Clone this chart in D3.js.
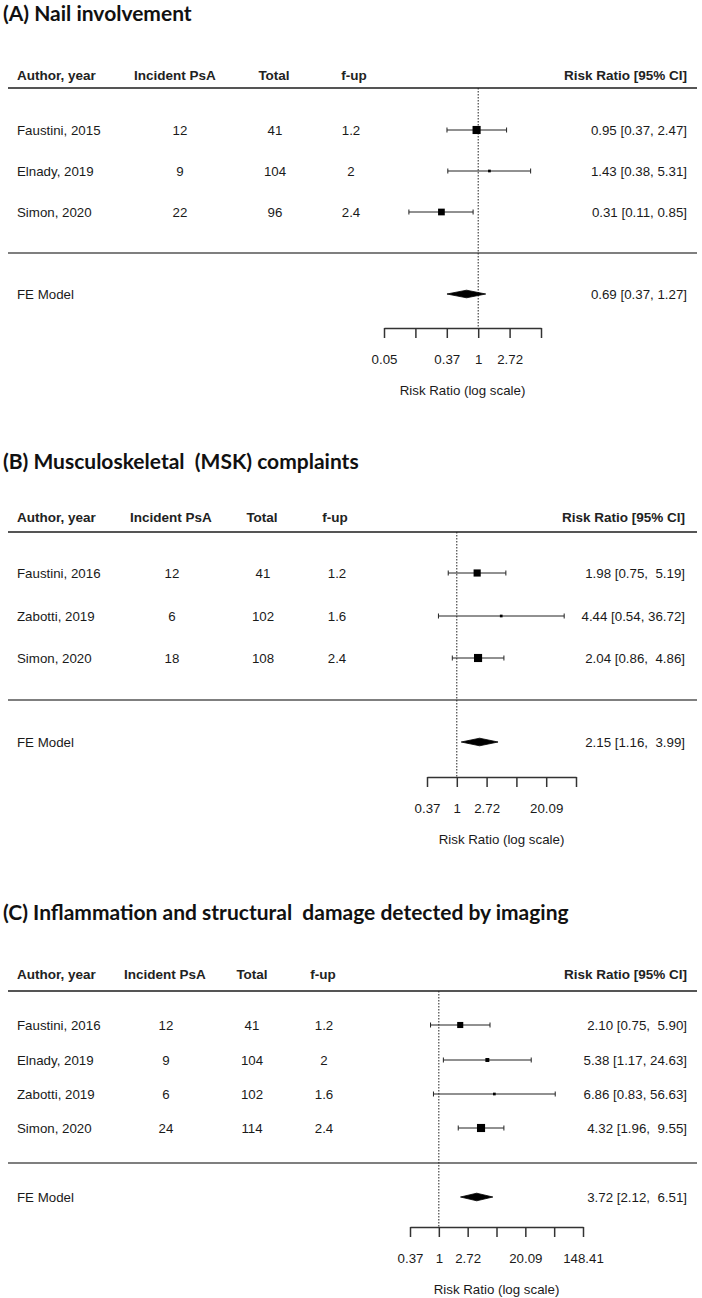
<!DOCTYPE html>
<html>
<head>
<meta charset="utf-8">
<script src="https://cdn.jsdelivr.net/npm/d3@7"></script>
<style>
  html, body { margin: 0; padding: 0; background: #fff; }
  svg { display: block; }
  text { white-space: pre; }
</style>
</head>
<body>
<svg id="chart" width="702" height="1298"></svg>
<script>
// ---------- DATA ----------
// Panel A: Nail involvement
const titleA = "(A) Nail involvement";
const authorsA = ["Faustini, 2015", "Elnady, 2019", "Simon, 2020"];
const incidentA = [12, 9, 22];
const totalA = [41, 104, 96];
const fupA = ["1.2", "2", "2.4"];
const rrA = [0.95, 1.43, 0.31];
const lowerA = [0.37, 0.38, 0.11];
const upperA = [2.47, 5.31, 0.85];
const feA = [0.69, 0.37, 1.27];
const ticksA = [-3, -2, -1, 0, 1, 2];
const tickLabelsA = ["0.05", "", "0.37", "1", "2.72", ""];

// Panel B: Musculoskeletal (MSK) complaints
const titleB = "(B) Musculoskeletal  (MSK) complaints";
const authorsB = ["Faustini, 2016", "Zabotti, 2019", "Simon, 2020"];
const incidentB = [12, 6, 18];
const totalB = [41, 102, 108];
const fupB = ["1.2", "1.6", "2.4"];
const rrB = [1.98, 4.44, 2.04];
const lowerB = [0.75, 0.54, 0.86];
const upperB = [5.19, 36.72, 4.86];
const feB = [2.15, 1.16, 3.99];
const ticksB = [-1, 0, 1, 2, 3, 4];
const tickLabelsB = ["0.37", "1", "2.72", "", "20.09", ""];

// Panel C: Inflammation and structural damage detected by imaging
const titleC = "(C) Inflammation and structural  damage detected by imaging";
const authorsC = ["Faustini, 2016", "Elnady, 2019", "Zabotti, 2019", "Simon, 2020"];
const incidentC = [12, 9, 6, 24];
const totalC = [41, 104, 102, 114];
const fupC = ["1.2", "2", "1.6", "2.4"];
const rrC = [2.10, 5.38, 6.86, 4.32];
const lowerC = [0.75, 1.17, 0.83, 1.96];
const upperC = [5.90, 24.63, 56.63, 9.55];
const feC = [3.72, 2.12, 6.51];
const ticksC = [-1, 0, 1, 2, 3, 4, 5];
const tickLabelsC = ["0.37", "1", "2.72", "", "20.09", "", "148.41"];

const headers = ["Author, year", "Incident PsA", "Total", "f-up", "Risk Ratio [95% CI]"];
const feLabel = "FE Model";
const xAxisTitle = "Risk Ratio (log scale)";

// ---------- LAYOUT (positions/styles only) ----------
const layouts = [
  { titleY: 21, headY: 80, lineY: 88, rowY: [130, 171, 212], sepY: 253, feY: 294, axisY: 328,
    xr: [384, 541], hdrX: [175, 274, 354], colX: [180, 275, 351], rightX: 687 },
  { titleY: 469, headY: 522, lineY: 532, rowY: [573, 616, 658], sepY: 700, feY: 742, axisY: 777,
    xr: [427, 576], hdrX: [171, 262, 335], colX: [172, 263, 337], rightX: 685 },
  { titleY: 920, headY: 979, lineY: 991, rowY: [1025, 1060, 1094, 1128], sepY: 1163, feY: 1197, axisY: 1227,
    xr: [410, 583], hdrX: [165, 252, 323], colX: [166, 252, 324], rightX: 687 }
];

const panels = [
  { title: titleA, authors: authorsA, inc: incidentA, tot: totalA, fup: fupA, rr: rrA, lo: lowerA, hi: upperA, fe: feA, ticks: ticksA, tlabels: tickLabelsA },
  { title: titleB, authors: authorsB, inc: incidentB, tot: totalB, fup: fupB, rr: rrB, lo: lowerB, hi: upperB, fe: feB, ticks: ticksB, tlabels: tickLabelsB },
  { title: titleC, authors: authorsC, inc: incidentC, tot: totalC, fup: fupC, rr: rrC, lo: lowerC, hi: upperC, fe: feC, ticks: ticksC, tlabels: tickLabelsC }
];

const svg = d3.select("#chart");
const BODY_FONT = "'Liberation Sans', Arial, sans-serif";
const TITLE_FONT = "Lato, 'Open Sans', sans-serif";
const INK = "#1a1a1a";
const LINE = "#555";

function fmt(v) { return v.toFixed(2); }

function drawPanel(p, L) {
  const g = svg.append("g");
  const n = p.authors.length;

  // title
  g.append("text").attr("x", 3).attr("y", L.titleY)
    .attr("font-family", TITLE_FONT).attr("font-weight", 700).attr("font-size", 21)
    .attr("fill", "#111").text(p.title);

  // headers
  const hdr = g.append("g").attr("font-family", BODY_FONT).attr("font-weight", 700)
    .attr("font-size", 13.5).attr("fill", "#222");
  hdr.append("text").attr("x", 17).attr("y", L.headY).text(headers[0]);
  [1, 2, 3].forEach(i => hdr.append("text").attr("x", L.hdrX[i - 1]).attr("y", L.headY)
    .attr("text-anchor", "middle").text(headers[i]));
  hdr.append("text").attr("x", L.rightX).attr("y", L.headY).attr("text-anchor", "end").text(headers[4]);

  // lines
  g.append("line").attr("x1", 8).attr("x2", 697).attr("y1", L.lineY).attr("y2", L.lineY)
    .attr("stroke", LINE).attr("stroke-width", 2);
  g.append("line").attr("x1", 8).attr("x2", 697).attr("y1", L.sepY).attr("y2", L.sepY)
    .attr("stroke", LINE).attr("stroke-width", 1.5);

  // scale
  const x = d3.scaleLog().base(Math.E)
    .domain([Math.exp(d3.min(p.ticks)), Math.exp(d3.max(p.ticks))])
    .range(L.xr);

  // reference line at RR = 1
  g.append("line").attr("x1", x(1)).attr("x2", x(1)).attr("y1", L.lineY).attr("y2", L.axisY)
    .attr("stroke", "#222").attr("stroke-width", 1).attr("stroke-dasharray", "1.5,1.5");

  // table text
  const body = g.append("g").attr("font-family", BODY_FONT).attr("font-size", 13.3).attr("fill", INK);
  const maxHi = d3.max(p.hi.concat([p.fe[2]]).map(v => fmt(v).length));
  const maxLo = d3.max(p.lo.concat([p.fe[1]]).map(v => fmt(v).length));
  const ciText = (e, l, h) => fmt(e) + " [" + fmt(l).padStart(maxLo) + ", " + fmt(h).padStart(maxHi) + "]";

  for (let i = 0; i < n; i++) {
    const y = L.rowY[i];
    body.append("text").attr("x", 17).attr("y", y).attr("dy", "0.35em").text(p.authors[i]);
    body.append("text").attr("x", L.colX[0]).attr("y", y).attr("dy", "0.35em").attr("text-anchor", "middle").text(p.inc[i]);
    body.append("text").attr("x", L.colX[1]).attr("y", y).attr("dy", "0.35em").attr("text-anchor", "middle").text(p.tot[i]);
    body.append("text").attr("x", L.colX[2]).attr("y", y).attr("dy", "0.35em").attr("text-anchor", "middle").text(p.fup[i]);
    body.append("text").attr("x", L.rightX).attr("y", y).attr("dy", "0.35em").attr("text-anchor", "end")
      .text(ciText(p.rr[i], p.lo[i], p.hi[i]));
  }
  body.append("text").attr("x", 17).attr("y", L.feY).attr("dy", "0.35em").text(feLabel);
  body.append("text").attr("x", L.rightX).attr("y", L.feY).attr("dy", "0.35em").attr("text-anchor", "end")
    .text(ciText(p.fe[0], p.fe[1], p.fe[2]));

  // weights (metafor style: 1/se, rescaled to 0.5..1.5)
  const se = p.lo.map((l, i) => (Math.log(p.hi[i]) - Math.log(l)) / (2 * 1.96));
  const w = se.map(s => 1 / s);
  const wmin = d3.min(w), wmax = d3.max(w);
  const psize = w.map(v => (wmax > wmin ? (v - wmin) / (wmax - wmin) : 0.5) + 0.5);

  // CIs and squares
  const marks = g.append("g");
  for (let i = 0; i < n; i++) {
    const y = L.rowY[i];
    const x1 = x(p.lo[i]), x2 = x(p.hi[i]);
    marks.append("line").attr("x1", x1).attr("x2", x2).attr("y1", y).attr("y2", y)
      .attr("stroke", "#222").attr("stroke-width", 1);
    [x1, x2].forEach(xx => marks.append("line").attr("x1", xx).attr("x2", xx)
      .attr("y1", y - 2.5).attr("y2", y + 2.5).attr("stroke", "#222").attr("stroke-width", 1));
    const s = 5.4 * psize[i];
    marks.append("rect").attr("x", x(p.rr[i]) - s / 2).attr("y", y - s / 2)
      .attr("width", s).attr("height", s).attr("fill", "#000");
  }

  // FE diamond
  const fy = L.feY, h = 3.8;
  const pts = [[x(p.fe[1]), fy], [x(p.fe[0]), fy - h], [x(p.fe[2]), fy], [x(p.fe[0]), fy + h]];
  marks.append("polygon").attr("points", pts.map(d => d.join(",")).join(" "))
    .attr("fill", "#000").attr("stroke", "#000").attr("stroke-width", 0.8);

  // axis
  const axis = d3.axisBottom(x)
    .tickValues(p.ticks.map(t => Math.exp(t)))
    .tickFormat((d, i) => p.tlabels[i])
    .tickSize(10).tickSizeOuter(0).tickPadding(17);
  const ag = g.append("g").attr("transform", `translate(0,${L.axisY})`).call(axis);
  ag.select(".domain").attr("stroke", "#333").attr("stroke-width", 1.5);
  ag.selectAll(".tick line").attr("stroke", "#333").attr("stroke-width", 1.5);
  ag.selectAll(".tick text").attr("font-family", BODY_FONT).attr("font-size", 13.3).attr("fill", INK);

  g.append("text").attr("x", (L.xr[0] + L.xr[1]) / 2).attr("y", L.axisY + 62).attr("dy", "0.35em")
    .attr("text-anchor", "middle").attr("font-family", BODY_FONT).attr("font-size", 13.3).attr("fill", INK)
    .text(xAxisTitle);
}

panels.forEach((p, i) => drawPanel(p, layouts[i]));
</script>
</body>
</html>
